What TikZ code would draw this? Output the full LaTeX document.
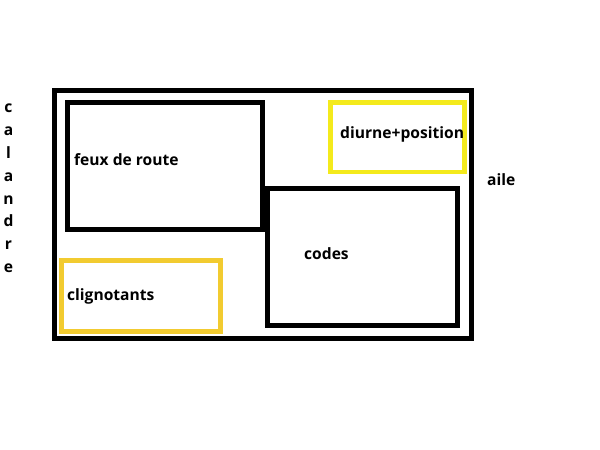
\documentclass[tikz,border=0pt]{standalone}
\usepackage{fontspec}
\setmainfont{Open Sans}
\definecolor{gold}{HTML}{F2CB30}
\definecolor{brightyellow}{HTML}{F4EA1C}
\begin{document}
\begin{tikzpicture}[x=1pt,y=-1pt,
  box/.style={draw=black,line width=5pt},
  ybox/.style={line width=4.5pt},
  lab/.style={font=\bfseries\fontsize{15.6}{18}\selectfont,inner sep=0pt,anchor=west,text height=11pt,text depth=3pt},
  vlab/.style={font=\bfseries\fontsize{15.6}{22.8}\selectfont,inner sep=0pt,anchor=base,align=center}]
\useasboundingbox[fill=white] (0,0) rectangle (600,450);
\draw[box] (54.5,90) rectangle (471.5,338);
\draw[box] (67.5,102.5) rectangle (262.5,229.5);
\draw[box] (267,188.5) rectangle (457,325.5);
\draw[ybox,draw=gold] (61.5,260.5) rectangle (220.5,331.5);
\draw[ybox,draw=brightyellow] (330.5,102.5) rectangle (464.5,172);
\node[lab] (feux) at (74,161) {feux de route};
\node[lab] (diurne) at (340,134) {diurne+position};
\node[lab] (aile) at (487,181) {aile};
\node[lab] (codes) at (304,255) {codes};
\node[lab] (clig) at (67,296) {clignotants};
\node[vlab] (cal) at (8.5,272.5) {c\\a\\l\\a\\n\\d\\r\\e};
\end{tikzpicture}
\end{document}
